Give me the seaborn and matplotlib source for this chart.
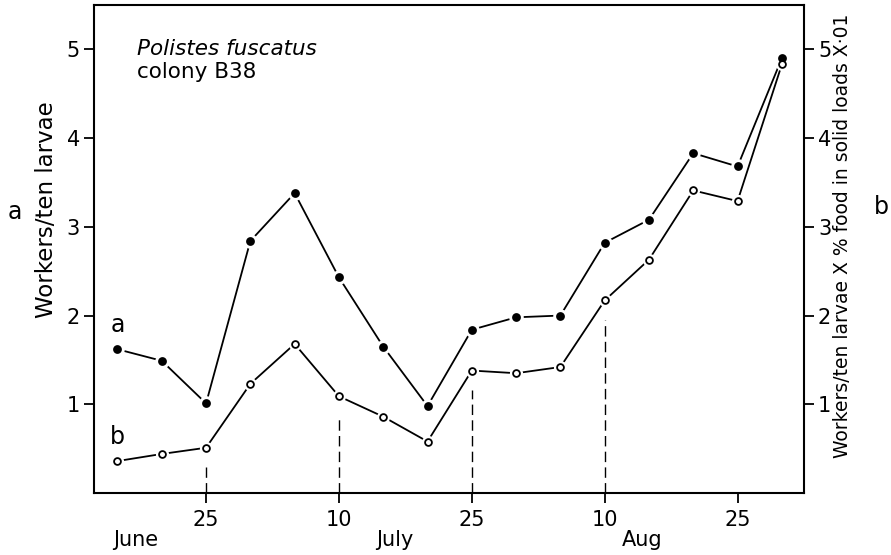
import numpy as np
import pandas as pd
import matplotlib
matplotlib.use('Agg')
import matplotlib.pyplot as plt
import seaborn as sns

# days counted from 25 June (axis ticks are drawn every 15 days)
days = [-10, -5, 0, 5, 10, 15, 20, 25, 30, 35, 40, 45, 50, 55, 60, 65]
# a : workers / ten larvae
a_vals = [1.62, 1.49, 1.01, 2.84, 3.38, 2.43, 1.65, 0.98, 1.84, 1.98, 2.00, 2.82, 3.08, 3.83, 3.68, 4.90]
# b : workers / ten larvae x % food in solid loads x 0.01
b_vals = [0.36, 0.44, 0.51, 1.23, 1.68, 1.09, 0.86, 0.58, 1.38, 1.35, 1.42, 2.17, 2.63, 3.41, 3.29, 4.83]

tick_days = [0, 15, 30, 45, 60]
tick_labels = ['25', '10', '25', '10', '25']
month_names = ['June', 'July', 'Aug']
month_days = [-8.0, 21.3, 49.2]
guide_days = [0, 15, 30, 45]
y_ticks = [1, 2, 3, 4, 5]

df = pd.DataFrame({'day': days, 'a': a_vals, 'b': b_vals})

sns.set_style('ticks')
plt.rcParams['font.family'] = ['DejaVu Sans']
plt.rcParams['text.color'] = 'black'
plt.rcParams['xtick.color'] = 'black'
plt.rcParams['ytick.color'] = 'black'
plt.rcParams['xtick.labelcolor'] = 'black'
plt.rcParams['ytick.labelcolor'] = 'black'

fig = plt.figure(figsize=(8.91, 5.55), dpi=100)
ax = fig.add_axes([94/891, 1-493/555, 710/891, 488/555])

_lw = 1.3
# lines
sns.lineplot(data=df, x='day', y='a', color='black', lw=_lw, ax=ax, zorder=2)
sns.lineplot(data=df, x='day', y='b', color='black', lw=_lw, ax=ax, zorder=2)
# white halos -> small gap between line and marker
sns.scatterplot(data=df, x='day', y='a', color='white', s=110, linewidth=0, ax=ax, zorder=3)
sns.scatterplot(data=df, x='day', y='b', color='white', s=90, linewidth=0, ax=ax, zorder=3)
# markers
sns.scatterplot(data=df, x='day', y='a', color='black', s=40, linewidth=0, ax=ax, zorder=4)
sns.scatterplot(data=df, x='day', y='b', facecolor='white', edgecolor='black', s=24, linewidth=1.3, ax=ax, zorder=4)

# dashed drop lines below the b points on tick dates
for d in guide_days:
	top = df.loc[df['day'] == d, 'b'].values[0] - 0.22
	ax.plot([d, d], [0, top], color='black', lw=1.0, linestyle=(0, (7.5, 3.8)), zorder=1)

ax.set_xlim(-12.65, 67.5)
ax.set_ylim(0, 5.5)
ax.set_xticks(tick_days)
ax.set_xticklabels(tick_labels)
ax.set_yticks(y_ticks)
ax.set_yticklabels([str(v) for v in y_ticks])
ax.set_xlabel('')
ax.set_ylabel('')

for sp in ax.spines.values():
	sp.set_visible(True)
	sp.set_linewidth(1.5)
	sp.set_color('black')

ax.tick_params(axis='both', direction='out', length=7, width=1.3, color='black', labelcolor='black', labelsize=15)
ax.tick_params(axis='y', right=True, labelright=True, pad=3)
ax.tick_params(axis='x', pad=5)

# month names under the day ticks
for name, d in zip(month_names, month_days):
	ax.text(d, -0.097, name, transform=ax.get_xaxis_transform(), ha='center', va='center', fontsize=15)

# series letters
ax.text(days[0], a_vals[0] + 0.27, 'a', ha='center', va='center', fontsize=17)
ax.text(days[0], b_vals[0] + 0.27, 'b', ha='center', va='center', fontsize=17)

# species / colony note
ax.text(0.06, 0.91, 'Polistes fuscatus', transform=ax.transAxes, ha='left', va='center', fontsize=15.5, style='italic')
ax.text(0.06, 0.863, 'colony B38', transform=ax.transAxes, ha='left', va='center', fontsize=15.5)

# axis titles
fig.text(47/891, 1-210/555, 'Workers/ten larvae', rotation=90, ha='center', va='center', fontsize=16.5)
fig.text(15/891, 1-212/555, 'a', ha='center', va='center', fontsize=17)
fig.text(842/891, 1-236/555, 'Workers/ten larvae X % food in solid loads X·01', rotation=90, ha='center', va='center', fontsize=13.5)
fig.text(881/891, 1-207/555, 'b', ha='center', va='center', fontsize=17)

fig.savefig('out.png', dpi=100)
